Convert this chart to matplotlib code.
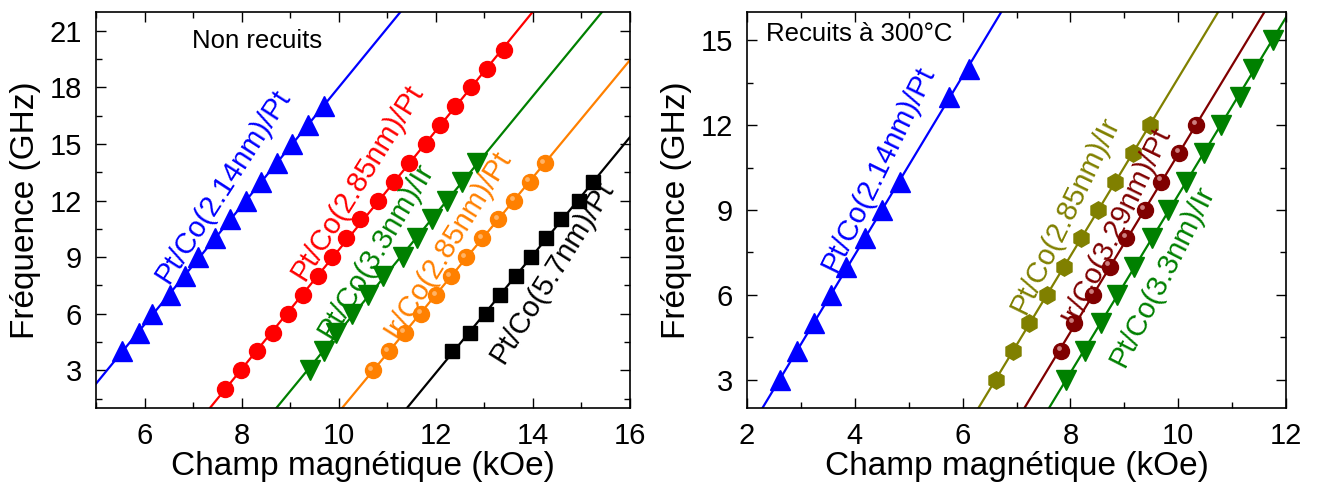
import numpy as np
import matplotlib
matplotlib.use("Agg")
import matplotlib.pyplot as plt
from matplotlib.ticker import MultipleLocator

plt.rcParams['font.family'] = ['Liberation Sans', 'DejaVu Sans']

# ---------------- Left panel: Non recuits ----------------
L_blue_f = [4, 5, 6, 7, 8, 9, 10, 11, 12, 13, 14, 15, 16, 17]
L_blue_H = [5.54, 5.88, 6.16, 6.53, 6.83, 7.10, 7.46, 7.77, 8.09, 8.39, 8.72, 9.03, 9.37, 9.70]

L_red_f = [2, 3, 4, 5, 6, 7, 8, 9, 10, 11, 12, 13, 14, 15, 16, 17, 18, 19, 20]
L_red_H = [7.66, 7.98, 8.32, 8.65, 8.95, 9.26, 9.58, 9.86, 10.15, 10.44, 10.81,
           11.14, 11.45, 11.79, 12.08, 12.40, 12.73, 13.06, 13.41]

L_green_f = [3, 4, 5, 6, 7, 8, 9, 10, 11, 12, 13, 14]
L_green_H = [9.40, 9.69, 9.95, 10.28, 10.60, 10.92, 11.32, 11.62, 11.92, 12.24, 12.54, 12.85]

L_orange_f = [3, 4, 5, 6, 7, 8, 9, 10, 11, 12, 13, 14]
L_orange_H = [10.70, 11.03, 11.36, 11.70, 12.01, 12.31, 12.62, 12.96, 13.29, 13.61, 13.93, 14.24]

L_black_f = [4, 5, 6, 7, 8, 9, 10, 11, 12, 13]
L_black_H = [12.34, 12.70, 13.03, 13.32, 13.65, 13.97, 14.26, 14.58, 14.95, 15.24]

L_labels = ["Pt/Co(2.14nm)/Pt", "Pt/Co(2.85nm)/Pt", "Pt/Co(3.3nm)/Ir",
            "Ir/Co(2.85nm)/Pt", "Pt/Co(5.7nm)/Pt"]

# ---------------- Right panel: Recuits à 300°C ----------------
R_blue_f = [3, 4, 5, 6, 7, 8, 9, 10, 13, 14]
R_blue_H = [2.61, 2.92, 3.25, 3.55, 3.84, 4.19, 4.50, 4.83, 5.74, 6.11]

R_olive_f = [3, 4, 5, 6, 7, 8, 9, 10, 11, 12]
R_olive_H = [6.62, 6.93, 7.24, 7.56, 7.88, 8.20, 8.52, 8.83, 9.16, 9.47]

R_dred_f = [4, 5, 6, 7, 8, 9, 10, 11, 12]
R_dred_H = [7.83, 8.06, 8.42, 8.73, 9.04, 9.38, 9.69, 10.02, 10.33]

R_green_f = [3, 4, 5, 6, 7, 8, 9, 10, 11, 12, 13, 14, 15]
R_green_H = [7.91, 8.28, 8.57, 8.86, 9.18, 9.51, 9.82, 10.14, 10.47, 10.79, 11.14, 11.39, 11.76]

R_labels = ["Pt/Co(2.14nm)/Pt", "Pt/Co(2.85nm)/Ir", "Ir/Co(3.29nm)/Pt", "Pt/Co(3.3nm)/Ir"]

fig = plt.figure(figsize=(13.17, 4.9), dpi=100)
axL = fig.add_axes([96/1317, 82/490, 534/1317, 396/490])
axR = fig.add_axes([747/1317, 82/490, 539/1317, 396/490])


def series(ax, H, f, color, marker, ms, xlim, highlight=None):
    p = np.polyfit(H, f, 1)
    xx = np.linspace(xlim[0], xlim[1], 200)
    ax.plot(xx, np.polyval(p, xx), color=color, lw=1.6, zorder=2)
    ax.plot(H, f, ls='none', marker=marker, ms=ms, color=color, mec=color, zorder=3)
    if highlight is not None:
        ax.plot(np.array(H) - 0.05 * (xlim[1] - xlim[0]) / 11, np.array(f) + 0.12,
                ls='none', marker='o', ms=ms * 0.3, color=highlight, mec='none',
                alpha=0.8, zorder=4)


xlimL = (5, 16)
series(axL, L_blue_H, L_blue_f, '#0000FF', '^', 14, xlimL)
series(axL, L_red_H, L_red_f, '#FF0000', 'o', 11.5, xlimL)
series(axL, L_green_H, L_green_f, '#008000', 'v', 14, xlimL)
series(axL, L_orange_H, L_orange_f, '#FF8000', 'o', 11.5, xlimL, highlight='#FFC080')
series(axL, L_black_H, L_black_f, '#000000', 's', 10.5, xlimL)

axL.set_xlim(*xlimL)
axL.set_ylim(1, 22)
axL.xaxis.set_major_locator(MultipleLocator(2))
axL.xaxis.set_minor_locator(MultipleLocator(1))
axL.yaxis.set_major_locator(MultipleLocator(3))
axL.yaxis.set_minor_locator(MultipleLocator(1.5))

lab_kw = dict(fontsize=21, ha='center', va='center', rotation_mode='anchor')
axL.text(7.61, 12.75, L_labels[0], color='#0000FF', rotation=57, **lab_kw)
axL.text(10.38, 13.0, L_labels[1], color='#FF0000', rotation=58, **lab_kw)
axL.text(10.77, 9.34, L_labels[2], color='#008000', rotation=59, **lab_kw)
axL.text(12.24, 9.69, L_labels[3], color='#FF8000', rotation=58, **lab_kw)
axL.text(14.40, 8.2, L_labels[4], color='#000000', rotation=58, **lab_kw)
axL.text(8.32, 20.45, "Non recuits", fontsize=18.5, ha='center', va='center')

xlimR = (2, 12)
series(axR, R_blue_H, R_blue_f, '#0000FF', '^', 14, xlimR)
series(axR, R_olive_H, R_olive_f, '#808000', 'h', 12.5, xlimR)
series(axR, R_dred_H, R_dred_f, '#800000', 'o', 11.5, xlimR, highlight='#E0A0A0')
series(axR, R_green_H, R_green_f, '#008000', 'v', 14, xlimR)

axR.set_xlim(*xlimR)
axR.set_ylim(2, 16)
axR.xaxis.set_major_locator(MultipleLocator(2))
axR.xaxis.set_minor_locator(MultipleLocator(1))
axR.yaxis.set_major_locator(MultipleLocator(3))
axR.yaxis.set_minor_locator(MultipleLocator(1.5))

axR.text(4.43, 10.47, R_labels[0], color='#0000FF', rotation=64, **lab_kw)
axR.text(7.91, 8.83, R_labels[1], color='#808000', rotation=64, **lab_kw)
axR.text(8.85, 8.48, R_labels[2], color='#800000', rotation=64, **lab_kw)
axR.text(9.71, 6.66, R_labels[3], color='#008000', rotation=63, **lab_kw)
axR.text(2.35, 15.21, "Recuits à 300°C", fontsize=18.5, ha='left', va='center')

for ax in (axL, axR):
    ax.tick_params(which='both', direction='in', top=True, right=True,
                   labeltop=False, labelright=False, width=1.0)
    ax.tick_params(which='major', length=7, labelsize=21, pad=10)
    ax.tick_params(which='minor', length=4)
    for s in ax.spines.values():
        s.set_linewidth(1.2)
    ax.set_xlabel("Champ magnétique (kOe)", fontsize=24, labelpad=1)
    ax.set_ylabel("Fréquence (GHz)", fontsize=24, labelpad=6)

fig.savefig("out.png", dpi=100)
